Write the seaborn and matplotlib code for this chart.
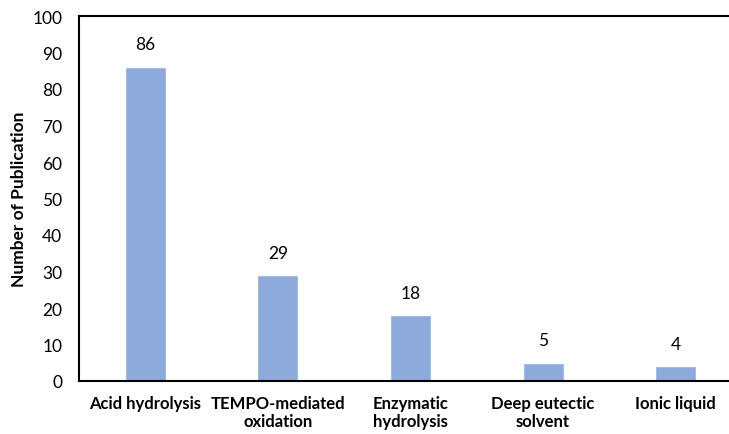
import pandas as pd
import seaborn as sns
import matplotlib.pyplot as plt

methods = ['Acid hydrolysis', 'TEMPO-mediated\noxidation', 'Enzymatic\nhydrolysis',
           'Deep eutectic\nsolvent', 'Ionic liquid']
counts = [86, 29, 18, 5, 4]

sns.set_style('white')
plt.rcParams['font.family'] = ['Lato', 'DejaVu Sans']

df = pd.DataFrame({'method': methods, 'count': counts})

fig = plt.figure(figsize=(7.29, 4.35), dpi=100)
ax = fig.add_axes([79/729, 1 - 382/435, 663/729, 365/435])
sns.barplot(data=df, x='method', y='count', color='#8EAADC', width=0.31,
            saturation=1, ax=ax)
for i, v in enumerate(counts):
    ax.text(i, v + 4, str(v), ha='center', va='bottom', fontsize=12.5, color='black')

ax.set_ylim(0, 100)
ax.set_yticks(range(0, 101, 10))
ax.set_xlim(-0.5, 4.5)
ax.tick_params(axis='both', length=0, labelsize=12.5, colors='black')
ax.tick_params(axis='x', pad=10, labelsize=12)
ax.tick_params(axis='y', pad=12)
for lab in ax.get_xticklabels():
    lab.set_fontweight('bold')
ax.set_xlabel('')
ax.set_ylabel('Number of Publication', fontsize=12.5, fontweight='bold',
              color='black', labelpad=4)
for s in ['left', 'top', 'bottom']:
    ax.spines[s].set_color('black')
    ax.spines[s].set_linewidth(1.5)
ax.spines['right'].set_visible(False)

fig.savefig('out.png', dpi=100)
